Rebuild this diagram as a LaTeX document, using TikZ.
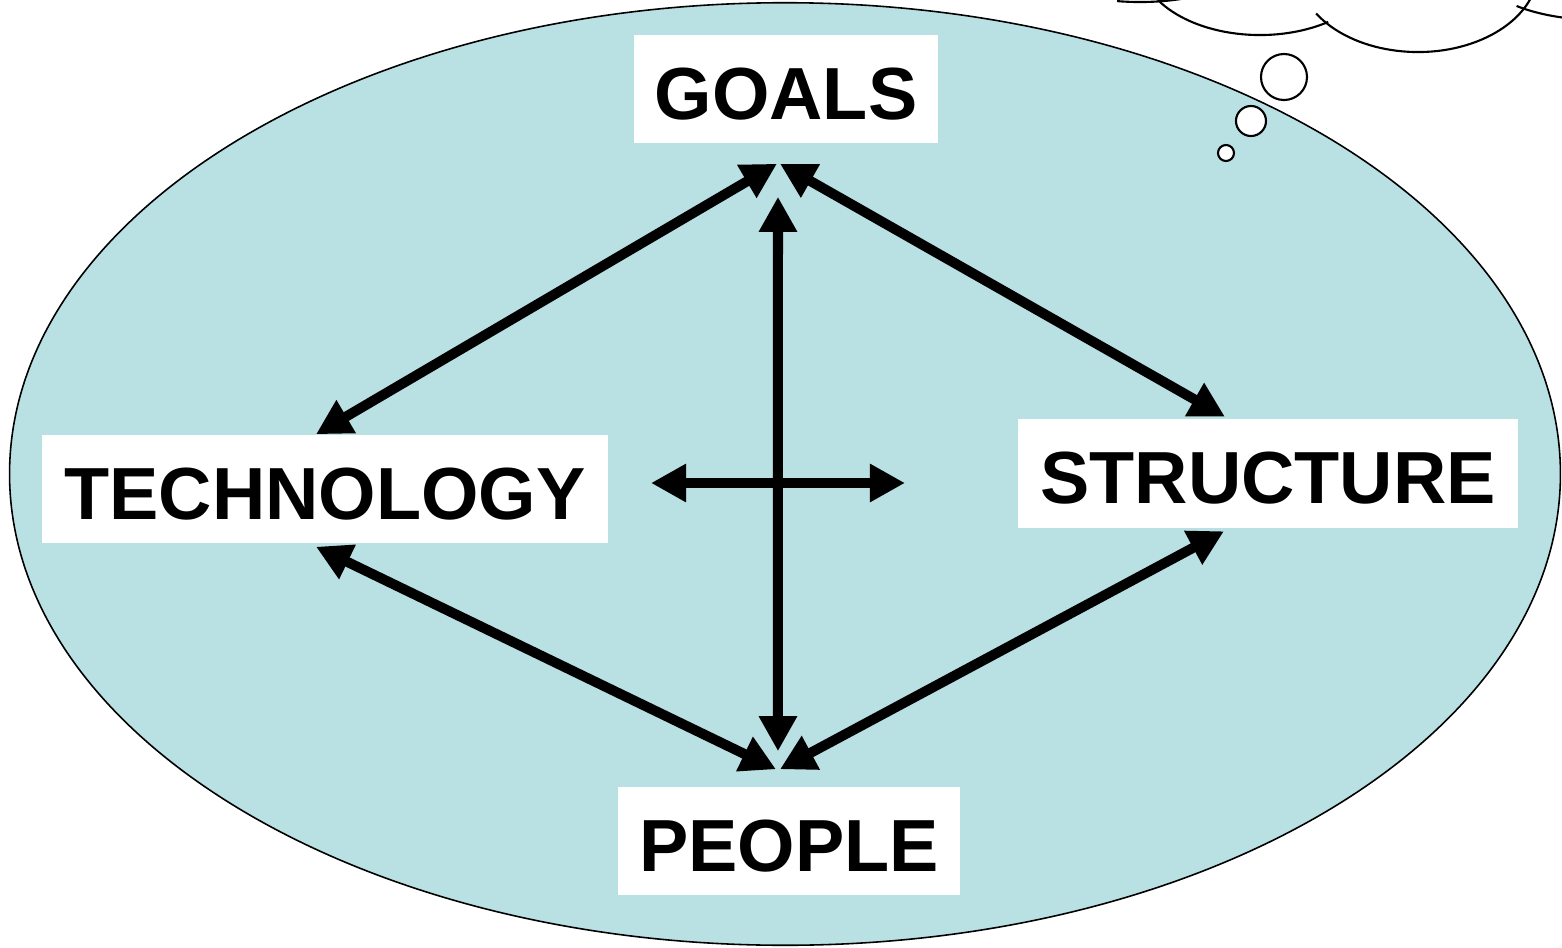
\documentclass[tikz,border=0pt]{standalone}
\usepackage{fontspec}
\setmainfont{Liberation Sans}
\usetikzlibrary{arrows.meta, positioning}

\definecolor{lagoon}{RGB}{185,224,227}

\begin{document}
\begin{tikzpicture}[
  x=0.01cm, y=0.01cm,
  lbl/.style={rectangle,fill=white,inner sep=0pt,align=center,minimum height=1.08cm,text height=0.6cm,text depth=0cm,font=\fontsize{21}{25}\selectfont\bfseries},
  arr/.style={{Triangle[length=0.35cm,width=0.36cm]}-{Triangle[length=0.35cm,width=0.36cm]},line width=0.1cm},
  puff/.style={draw=black,line width=0.6pt},
  bub/.style={circle,draw=black,fill=white,line width=0.6pt,inner sep=0pt}
]
  \useasboundingbox (0,0) rectangle (1562,-948);
  \fill[white] (0,0) rectangle (1562,-948);
  \filldraw[fill=lagoon,draw=black,line width=0.45pt] (785,-474) ellipse [x radius=7.75cm, y radius=4.71cm];

  \begin{scope}
    \clip (0,0) rectangle (1562,-948);
    \draw[puff] (1140,40) ++(258:1.1cm and 0.42cm) arc[start angle=258, end angle=300, x radius=1.1cm, y radius=0.42cm];
    \draw[puff] (1260,39) ++(211.8:1.2cm and 0.74cm) arc[start angle=211.8, end angle=304.6, x radius=1.2cm, y radius=0.74cm];
    \draw[puff] (1418,30) ++(212:1.2cm and 0.82cm) arc[start angle=212, end angle=345, x radius=1.2cm, y radius=0.82cm];
    \draw[puff] (1600,30) ++(226:1.2cm and 0.5cm) arc[start angle=226, end angle=262, x radius=1.2cm, y radius=0.5cm];
  \end{scope}
  \node[bub,minimum size=0.46cm] (b1) at (1284,-77) {};
  \node[bub,minimum size=0.30cm] (b2) at (1251,-121) {};
  \node[bub,minimum size=0.16cm] (b3) at (1226,-153) {};

  \node[lbl,minimum width=3.04cm] (goals) at (786,-89) {GOALS};
  \node[lbl,minimum width=5.66cm] (tech) at (325,-489) {TECHNOLOGY};
  \node[lbl,minimum width=5.00cm] (struct) at (1268,-473.5) {STRUCTURE};
  \node[lbl,minimum width=3.42cm] (people) at (789,-841) {PEOPLE};

  \coordinate (hl) at (651,-483);
  \coordinate (hr) at (905,-483);

  \draw[arr] ([xshift=-0.09cm]tech.north) -- ([xshift=-0.09cm,yshift=-0.2cm]goals.south);
  \draw[arr] ([xshift=-0.06cm,yshift=-0.2cm]goals.south) -- ([xshift=-0.43cm,yshift=0.02cm]struct.north);
  \draw[arr] ([xshift=-0.08cm,yshift=-0.53cm]goals.south) -- ([xshift=-0.11cm,yshift=0.35cm]people.north);
  \draw[arr] (hl) -- (hr);
  \draw[arr] ([xshift=-0.09cm,yshift=-0.03cm]tech.south) -- ([xshift=-0.13cm,yshift=0.17cm]people.north);
  \draw[arr] ([xshift=-0.44cm,yshift=-0.03cm]struct.south) -- ([xshift=-0.09cm,yshift=0.17cm]people.north);
\end{tikzpicture}
\end{document}
